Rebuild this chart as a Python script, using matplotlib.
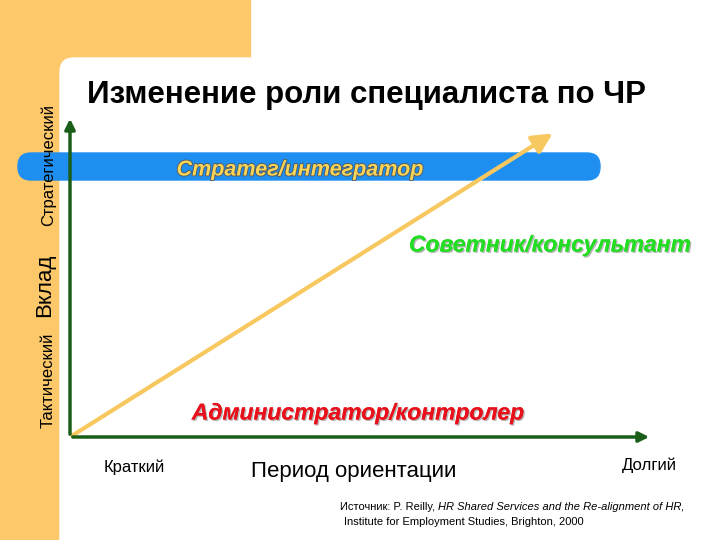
import matplotlib
matplotlib.use("Agg")
import matplotlib.pyplot as plt
from matplotlib.patches import Rectangle, FancyBboxPatch, FancyArrowPatch
import matplotlib.patheffects as pe

title = "Изменение роли специалиста по ЧР"
roles = ["Стратег/интегратор", "Советник/консультант", "Администратор/контролер"]
role_colors = ["#f6d55a", "#22dd22", "#e8101a"]
role_pos = [(300, 170), (550, 245), (358, 413)]
role_sizes = [15.5, 16.5, 16.5]
y_labels = ["Тактический", "Вклад", "Стратегический"]
x_labels = ["Краткий", "Период ориентации", "Долгий"]
trend_x = [70, 555]
trend_y = [437, 132]
source_a = "Источник: P. Reilly, "
source_b = "HR Shared Services and the Re-alignment of HR,"
source_c = "Institute for Employment Studies, Brighton, 2000"

plt.rcParams['font.family'] = ['Liberation Sans', 'DejaVu Sans']
fig = plt.figure(figsize=(7.2, 5.4), dpi=100)
ax = fig.add_axes([0, 0, 1, 1])
ax.set_xlim(0, 720); ax.set_ylim(540, 0); ax.axis('off')

yel = "#fcc86a"
ax.add_patch(Rectangle((0, 0), 250, 70, color=yel, zorder=0))
ax.add_patch(Rectangle((0, 0), 60, 540, color=yel, zorder=0))
ax.add_patch(FancyBboxPatch((60, 58), 700, 520, boxstyle="round,pad=0,rounding_size=14",
                            color="white", zorder=1))
ax.add_patch(FancyBboxPatch((18, 153), 582, 27, boxstyle="round,pad=0,rounding_size=13",
                            color="#1e8ff0", zorder=2))
ax.text(87, 95, title, fontsize=22.5, fontweight='bold', va='center', ha='left', zorder=5)

g = "#1a5e1a"
ax.add_patch(FancyArrowPatch((70, 437), (70, 116), arrowstyle='-|>,head_length=6,head_width=3',
                             color=g, lw=2.5, zorder=4))
ax.add_patch(FancyArrowPatch((70, 437), (652, 437), arrowstyle='-|>,head_length=6,head_width=3',
                             color=g, lw=2.5, zorder=4))
ax.add_patch(FancyArrowPatch((trend_x[0], trend_y[0]), (trend_x[1], trend_y[1]),
                             arrowstyle='-|>,head_length=12,head_width=6',
                             color="#f8c860", lw=3, zorder=3))

for r, c, (x, y), s in zip(roles, role_colors, role_pos, role_sizes):
    ax.text(x, y, r, fontsize=s, fontweight='bold', style='italic', color=c, ha='center',
            va='center', zorder=6,
            path_effects=[pe.withStroke(linewidth=1.2, foreground='#555555')] if c == "#f6d55a" else
            [pe.withSimplePatchShadow(offset=(1, -1), shadow_rgbFace='#888888', alpha=0.6), pe.Normal()])

ax.text(48, 380, y_labels[0], rotation=90, fontsize=12, ha='center', va='center', zorder=6)
ax.text(45, 285, y_labels[1], rotation=90, fontsize=16, ha='center', va='center', zorder=6)
ax.text(48, 165, y_labels[2], rotation=90, fontsize=12, ha='center', va='center', zorder=6)
ax.text(134, 467, x_labels[0], fontsize=12, ha='center', va='center', zorder=6)
ax.text(354, 472, x_labels[1], fontsize=16, ha='center', va='center', zorder=6)
ax.text(649, 465, x_labels[2], fontsize=12, ha='center', va='center', zorder=6)
t = ax.text(340, 507, source_a, fontsize=8, ha='left', va='center', zorder=6)
fig.canvas.draw()
bb = t.get_window_extent()
x_next = ax.transData.inverted().transform((bb.x1, 0))[0]
ax.text(x_next, 507, source_b, fontsize=8, style='italic', ha='left', va='center', zorder=6)
ax.text(344, 522, source_c, fontsize=8, ha='left', va='center', zorder=6)

fig.savefig("out.png", dpi=100)
